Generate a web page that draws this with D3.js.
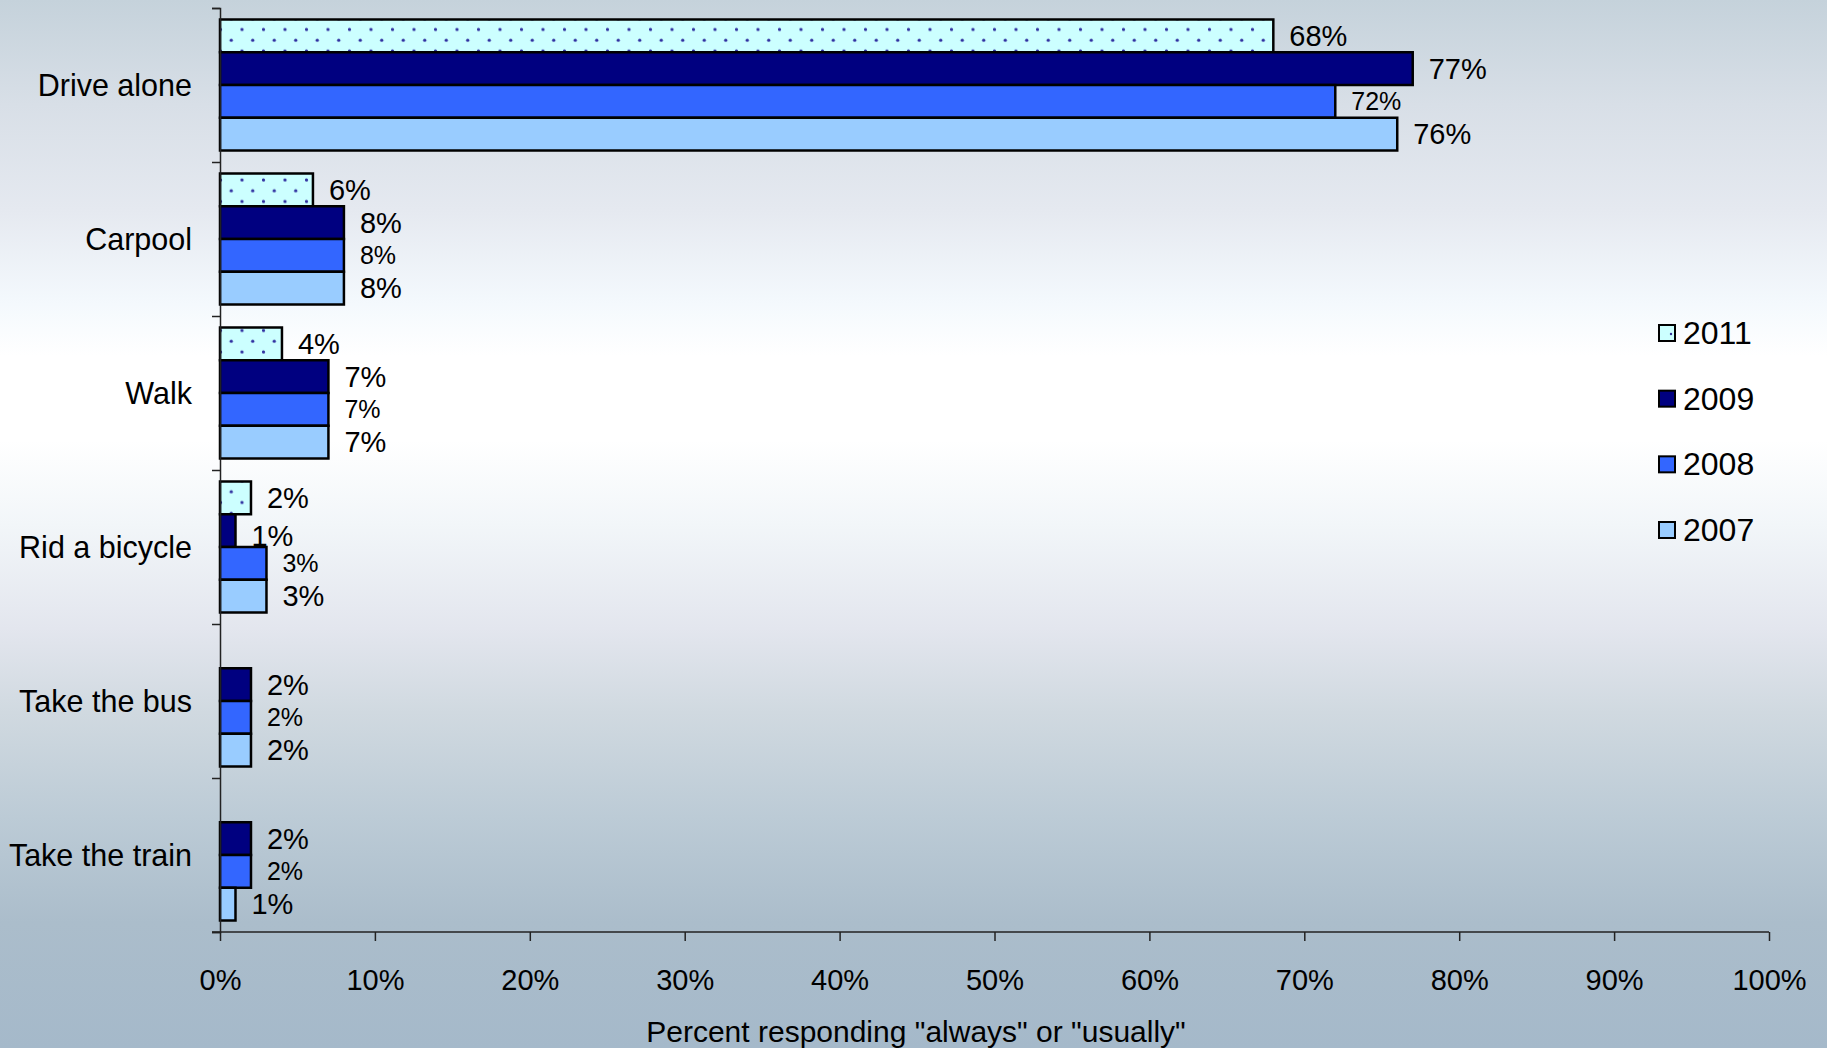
<!DOCTYPE html>
<html>
<head>
<meta charset="utf-8">
<script src="https://cdn.jsdelivr.net/npm/d3@7"></script>
<style>
  html, body { margin: 0; padding: 0; }
  body { width: 1827px; height: 1048px; overflow: hidden; }
  text { font-family: "Liberation Sans", Arial, sans-serif; fill: #000; }
</style>
</head>
<body>
<svg id="chart" width="1827" height="1048"></svg>
<script>
const categories = ["Drive alone", "Carpool", "Walk", "Rid a bicycle", "Take the bus", "Take the train"];
const years = ["2011", "2009", "2008", "2007"];
const values2011 = [68, 6, 4, 2, null, null];
const values2009 = [77, 8, 7, 1, 2, 2];
const values2008 = [72, 8, 7, 3, 2, 2];
const values2007 = [76, 8, 7, 3, 2, 1];
const seriesValues = [values2011, values2009, values2008, values2007];
const xTicks = [0, 10, 20, 30, 40, 50, 60, 70, 80, 90, 100];
const axisTitle = 'Percent responding "always" or "usually"';

const colors = ["url(#dots)", "#000080", "#3366FF", "#99CCFF"];
const labelSizes = [29, 29, 25, 29];

const svg = d3.select("#chart");
const defs = svg.append("defs");

// background gradient
const grad = defs.append("linearGradient").attr("id", "bg")
  .attr("x1", 0).attr("y1", 0).attr("x2", 0).attr("y2", 1);
[[0, "#c5d2db"], [0.1, "#d8dfe7"], [0.2, "#e5e9f0"], [0.29, "#f4f9fd"], [0.34, "#ffffff"],
 [0.42, "#ffffff"], [0.5, "#f2f6f9"], [0.6, "#e3e6ee"], [0.68, "#d0d9e0"], [0.78, "#bccbd6"],
 [0.88, "#abbdcb"], [1, "#a5b9ca"]]
  .forEach(([o, c]) => grad.append("stop").attr("offset", o).attr("stop-color", c));
svg.append("rect").attr("width", 1827).attr("height", 1048).attr("fill", "url(#bg)");

// dotted pattern
const pat = defs.append("pattern").attr("id", "dots").attr("patternUnits", "userSpaceOnUse")
  .attr("width", 21.5).attr("height", 21.5).attr("x", 4).attr("y", 2);
pat.append("rect").attr("width", 21.5).attr("height", 21.5).attr("fill", "#CCFFFF");
pat.append("circle").attr("cx", 1.5).attr("cy", 6).attr("r", 1.6).attr("fill", "#3030A0");
pat.append("circle").attr("cx", 12.25).attr("cy", 16.75).attr("r", 1.6).attr("fill", "#3030A0");

const x = d3.scaleLinear().domain([0, 100]).range([220, 1769]);
const y = d3.scaleBand().domain(categories).range([8, 932]).paddingInner(0).paddingOuter(0);
const yIdx = d3.scaleLinear().domain([0, categories.length]).range([8, 932]);
const yInner = d3.scaleBand().domain(years).range([11.5, y.bandwidth() - 11.5]).padding(0);

// bars
years.forEach((yr, si) => {
  const data = categories.map((c, i) => ({ c, v: seriesValues[si][i] })).filter(d => d.v != null);
  const g = svg.append("g");
  g.selectAll("rect").data(data).enter().append("rect")
    .attr("x", x(0))
    .attr("y", d => y(d.c) + yInner(yr))
    .attr("width", d => x(d.v) - x(0))
    .attr("height", yInner.bandwidth())
    .attr("fill", colors[si])
    .attr("stroke", "#000").attr("stroke-width", 2.5);
  g.selectAll("text").data(data).enter().append("text")
    .attr("x", d => x(d.v) + 16)
    .attr("y", d => y(d.c) + yInner(yr) + yInner.bandwidth() / 2 + (d.v < 2 && si === 1 ? 5 : 0))
    .attr("dominant-baseline", "central")
    .style("font-size", labelSizes[si] + "px")
    .text(d => d.v + "%");
});

// y axis
const yAxis = d3.axisLeft(yIdx).tickValues(d3.range(0, categories.length + 1)).tickSize(8).tickFormat("");
const gy = svg.append("g").attr("transform", `translate(${x(0)},0)`).call(yAxis);
gy.select(".domain").attr("stroke", "#222").attr("stroke-width", 1.5);
gy.selectAll(".tick line").attr("stroke", "#222").attr("stroke-width", 1.5);

// category labels
svg.append("g").selectAll("text").data(categories).enter().append("text")
  .attr("x", 192)
  .attr("y", d => y(d) + y.bandwidth() / 2)
  .attr("text-anchor", "end")
  .attr("dominant-baseline", "central")
  .style("font-size", "30.5px")
  .text(d => d);

// x axis
const xAxis = d3.axisBottom(x).tickValues(xTicks).tickSize(9).tickPadding(28).tickFormat(d => d + "%");
const gx = svg.append("g").attr("transform", "translate(0,932)").call(xAxis);
gx.select(".domain").remove();
gx.selectAll(".tick line").attr("stroke", "#222").attr("stroke-width", 1.5);
gx.selectAll(".tick text").style("font-size", "29px").style("font-family", '"Liberation Sans", Arial, sans-serif').attr("fill", "#000");
gx.append("line").attr("x1", 212).attr("x2", x(100)).attr("y1", 0).attr("y2", 0)
  .attr("stroke", "#222").attr("stroke-width", 1.5);

// axis title
svg.append("text").attr("x", 916).attr("y", 1031)
  .attr("text-anchor", "middle").attr("dominant-baseline", "central")
  .style("font-size", "30px").text(axisTitle);

// legend
const legendY = d3.scalePoint().domain(years).range([333, 530]);
const lg = svg.append("g");
years.forEach((yr, si) => {
  lg.append("rect").attr("x", 1659).attr("y", legendY(yr) - 8).attr("width", 16).attr("height", 16)
    .attr("fill", si === 0 ? "#CCFFFF" : colors[si]).attr("stroke", "#000").attr("stroke-width", 2);
  if (si === 0) lg.append("circle").attr("cx", 1671).attr("cy", legendY(yr) + 1).attr("r", 1.2).attr("fill", "#333399");
  lg.append("text").attr("x", 1683).attr("y", legendY(yr)).attr("dominant-baseline", "central")
    .style("font-size", "32px").text(yr);
});
</script>
</body>
</html>
